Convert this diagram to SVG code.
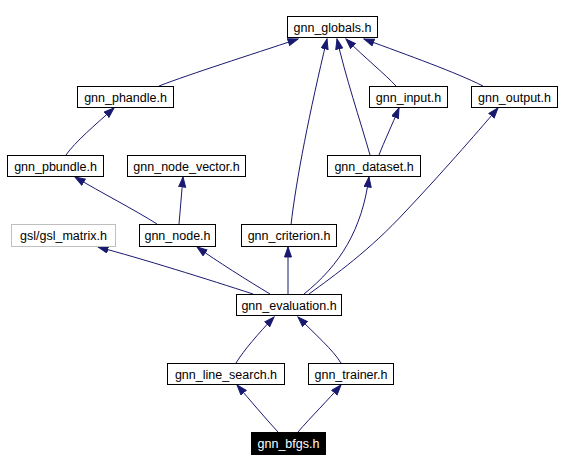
<svg xmlns="http://www.w3.org/2000/svg" width="561" height="471" viewBox="0 0 561 471">
<style>
  .n rect { fill: #ffffff; stroke: #000000; stroke-width: 1; }
  .n text { font-family: "Liberation Sans", Arial, sans-serif; font-size: 12.5px; fill: #000000; text-anchor: middle; }
  .ext rect { stroke: #bfbfbf; }
  .cur rect { fill: #000000; }
  .cur text { fill: #ffffff; }
  .e path { fill: none; stroke: #191970; stroke-width: 1; marker-end: url(#ah); }
</style>
<defs>
  <marker id="ah" markerUnits="userSpaceOnUse" markerWidth="12" markerHeight="9" refX="10.5" refY="4" orient="auto">
    <path d="M0.5,0.5 L10.5,4 L0.5,7.5 z" fill="#191970" stroke="#191970" stroke-width="1"/>
  </marker>
</defs>
<rect width="561" height="471" fill="#ffffff"/>
<g id="edges" class="e">
  <path d="M159,86 C190,74 250,55 298,39"/>
  <path d="M291,225 C296,180 310,110 327,39"/>
  <path d="M370,155 C360,120 345,75 337,39"/>
  <path d="M396,86 C385,74 365,58 346,39"/>
  <path d="M483,86 C455,72 410,56 364,39"/>
  <path d="M66,155 C75,142 95,125 114,108"/>
  <path d="M379,155 C384,142 392,125 399,108"/>
  <path d="M157,224 C135,210 100,192 75,177"/>
  <path d="M179,224 L183,177"/>
  <path d="M253,294 C210,280 140,258 98,247"/>
  <path d="M270,294 C250,282 215,260 197,247"/>
  <path d="M288,294 L288,247"/>
  <path d="M304,294 C340,265 362,230 369,177"/>
  <path d="M309,294 C335,275 370,250 405,212 C440,175 475,135 498,108"/>
  <path d="M236,363 C244,350 258,334 274,317"/>
  <path d="M341,363 C333,350 315,334 298,317"/>
  <path d="M278,432 C265,418 250,400 237,385"/>
  <path d="M298,432 C310,418 328,400 341,385"/>
</g>
<g id="gnn_globals" class="n"><rect x="287.5" y="16.5" width="90" height="21"/><text x="332.5" y="31.5">gnn_globals.h</text></g>
<g id="gnn_phandle" class="n"><rect x="77.5" y="86.5" width="96" height="21"/><text x="125.5" y="101.5">gnn_phandle.h</text></g>
<g id="gnn_input" class="n"><rect x="369.5" y="86.5" width="78" height="21"/><text x="408.5" y="101.5">gnn_input.h</text></g>
<g id="gnn_output" class="n"><rect x="471.5" y="86.5" width="86" height="21"/><text x="514.5" y="101.5">gnn_output.h</text></g>
<g id="gnn_pbundle" class="n"><rect x="7.5" y="155.5" width="96" height="21"/><text x="55.5" y="170.5">gnn_pbundle.h</text></g>
<g id="gnn_node_vector" class="n"><rect x="127.5" y="155.5" width="118" height="21"/><text x="186.5" y="170.5">gnn_node_vector.h</text></g>
<g id="gnn_dataset" class="n"><rect x="327.5" y="155.5" width="93" height="21"/><text x="374" y="170.5">gnn_dataset.h</text></g>
<g id="gsl_matrix" class="n ext"><rect x="11.5" y="224.5" width="104" height="22"/><text x="63.5" y="240">gsl/gsl_matrix.h</text></g>
<g id="gnn_node" class="n"><rect x="139.5" y="224.5" width="76" height="22"/><text x="177.5" y="240">gnn_node.h</text></g>
<g id="gnn_criterion" class="n"><rect x="241.5" y="224.5" width="95" height="22"/><text x="289" y="240">gnn_criterion.h</text></g>
<g id="gnn_evaluation" class="n"><rect x="236.5" y="294.5" width="105" height="21"/><text x="289" y="309.5">gnn_evaluation.h</text></g>
<g id="gnn_line_search" class="n"><rect x="167.5" y="363.5" width="117" height="21"/><text x="226" y="378.5">gnn_line_search.h</text></g>
<g id="gnn_trainer" class="n"><rect x="308.5" y="363.5" width="85" height="21"/><text x="351" y="378.5">gnn_trainer.h</text></g>
<g id="gnn_bfgs" class="n cur"><rect x="251.5" y="432.5" width="74" height="22"/><text x="288.5" y="448">gnn_bfgs.h</text></g>
</svg>
